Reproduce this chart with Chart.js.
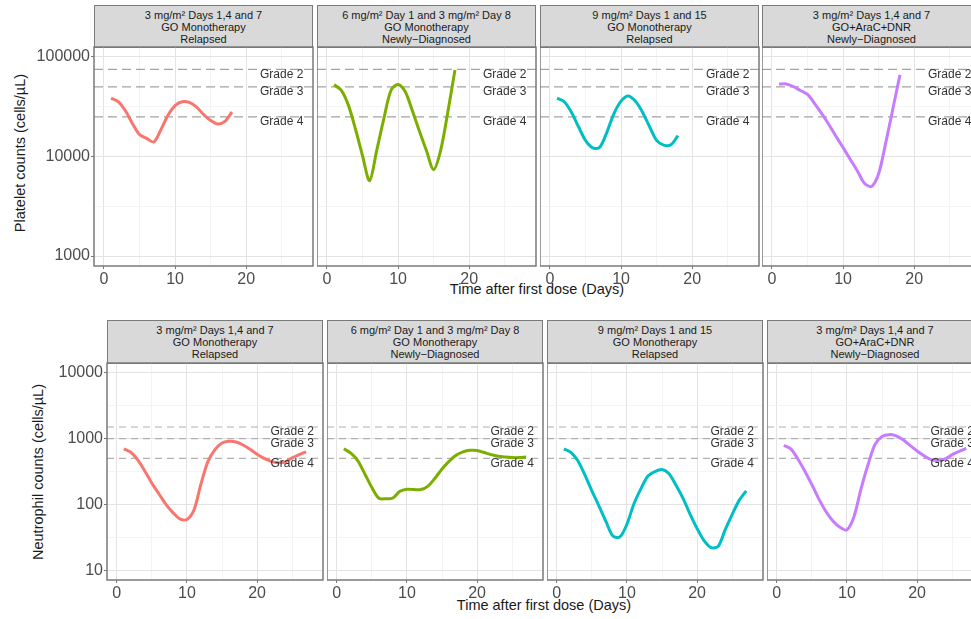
<!DOCTYPE html>
<html>
<head>
<meta charset="utf-8">
<script src="https://cdn.jsdelivr.net/npm/chart.js@4.4.1/dist/chart.umd.min.js"></script>
<style>
body { margin: 0; width: 971px; height: 619px; overflow: hidden; background: #fff; position: relative; font-family: "Liberation Sans", Arial, sans-serif; }
canvas { position: absolute; }
.strip { position: absolute; box-sizing: border-box; background: #d9d9d9; border: 1.5px solid #7a7a7a; color: #1a1a1a; font-size: 11px; line-height: 12px; text-align: center; display: flex; flex-direction: column; justify-content: center; white-space: nowrap; overflow: hidden; }
.title { position: absolute; color: #1a1a1a; font-size: 14.5px; white-space: nowrap; transform: translate(-50%, -50%); }
.ytitle { transform: translate(-50%, -50%) rotate(-90deg); }
</style>
</head>
<body>
<div class="title ytitle" style="left:20px;top:153px">Platelet counts (cells/µL)</div>
<div class="title" style="left:537px;top:289px">Time after first dose (Days)</div>
<div class="title ytitle" style="left:38px;top:472px">Neutrophil counts (cells/µL)</div>
<div class="title" style="left:544px;top:605px">Time after first dose (Days)</div>
<script>
// panel headers
const panelLabels = [
    ['3 mg/m² Days 1,4 and 7', 'GO Monotherapy', 'Relapsed'],
    ['6 mg/m² Day 1 and 3 mg/m² Day 8', 'GO Monotherapy', 'Newly−Diagnosed'],
    ['9 mg/m² Days 1 and 15', 'GO Monotherapy', 'Relapsed'],
    ['3 mg/m² Days 1,4 and 7', 'GO+AraC+DNR', 'Newly−Diagnosed']
];
const seriesColors = ['#F8766D', '#7CAE00', '#00BFC4', '#C77CFF'];

const plateletDays = [1, 2, 3, 4, 5, 6, 7, 8, 9, 10, 11, 12, 13, 14, 15, 16, 17, 18];
const plateletRed    = [38600, 35500, 29000, 21500, 16600, 15200, 14000, 18500, 26000, 32500, 35500, 35000, 31500, 26500, 23000, 21200, 22500, 28000];
const plateletGreen  = [52500, 46500, 33000, 19000, 10200, 5700, 11500, 24000, 46000, 53000, 45000, 29000, 18000, 11400, 7400, 11600, 28000, 74000];
const plateletCyan   = [38500, 35500, 28000, 20000, 14500, 12200, 12400, 17500, 27000, 36000, 40500, 36000, 28000, 20000, 14500, 13000, 13100, 16200];
const plateletPurple = [53500, 53500, 50500, 46000, 42000, 34000, 27000, 21000, 16000, 12300, 9400, 7200, 5400, 5000, 6700, 13700, 30000, 66000];

const neutrophilDays = [1, 2, 3, 4, 5, 6, 7, 8, 9, 10, 11, 12, 13, 14, 15, 16, 17, 18, 19, 20, 21, 22, 23, 24, 25, 26, 27];
const neutrophilRed    = [700, 620, 470, 320, 210, 145, 100, 75, 60, 59, 82, 205, 450, 680, 860, 910, 890, 800, 690, 580, 500, 450, 430, 440, 510, 570, 630];
const neutrophilGreen  = [700, 600, 460, 290, 180, 124, 122, 125, 158, 170, 168, 168, 190, 250, 345, 450, 560, 630, 665, 660, 615, 570, 540, 525, 515, 515, 527];
const neutrophilCyan   = [700, 620, 460, 280, 160, 95, 55, 33, 32, 50, 102, 174, 270, 316, 338, 292, 195, 123, 71, 43, 28, 22, 23, 41, 70, 115, 160];
const neutrophilPurple = [790, 700, 490, 320, 200, 120, 78, 56, 45, 41, 65, 171, 400, 815, 1080, 1150, 1100, 960, 790, 650, 550, 480, 465, 490, 570, 640, 710];

const gradeNames = ['Grade 2', 'Grade 3', 'Grade 4'];
const plateletGrades = [75000, 50000, 25000];
const neutrophilGrades = [1500, 1000, 500];

const plateletTicks = [1000, 10000, 100000];
const neutrophilTicks = [10, 100, 1000, 10000];
const dayTicks = [0, 10, 20];

const rows = [
    {
        stripTop: 5, plotTop: 47, plotH: 219, plotW: 219, lefts: [94, 317, 540, 762],
        yMin: Math.pow(10, 2.9), yMax: Math.pow(10, 5.1), yTicks: plateletTicks,
        grades: plateletGrades, days: plateletDays,
        series: [plateletRed, plateletGreen, plateletCyan, plateletPurple],
        dash: [9, 5], dashColor: '#a3a3a3', dashWidth: 1.4
    },
    {
        stripTop: 320, plotTop: 363, plotH: 217, plotW: 216, lefts: [107, 327, 547, 767],
        yMin: Math.pow(10, 0.85), yMax: Math.pow(10, 4.15), yTicks: neutrophilTicks,
        grades: neutrophilGrades, days: neutrophilDays,
        series: [neutrophilRed, neutrophilGreen, neutrophilCyan, neutrophilPurple],
        dash: [7, 5], dashColor: '#b0b0b0', dashWidth: 1.1
    }
];

const gradePlugin = {
    id: 'grades',
    beforeDatasetsDraw(chart, args, opts) {
        const { ctx, chartArea, scales } = chart;
        ctx.save();
        ctx.beginPath();
        ctx.rect(chartArea.left, chartArea.top, chartArea.width, chartArea.height);
        ctx.clip();
        ctx.strokeStyle = opts.color;
        ctx.lineWidth = opts.width;
        ctx.setLineDash(opts.dash);
        opts.values.forEach(v => {
            const y = scales.y.getPixelForValue(v);
            ctx.beginPath();
            ctx.moveTo(chartArea.left, y);
            ctx.lineTo(chartArea.right, y);
            ctx.stroke();
        });
        ctx.restore();
    },
    afterDatasetsDraw(chart, args, opts) {
        const { ctx, scales } = chart;
        ctx.save();
        ctx.font = '12px "Liberation Sans", Arial, sans-serif';
        ctx.fillStyle = '#333';
        ctx.textAlign = 'center';
        ctx.textBaseline = 'middle';
        const x = scales.x.getPixelForValue(25);
        opts.values.forEach((v, i) => {
            ctx.fillText(gradeNames[i], x, scales.y.getPixelForValue(v) + 5);
        });
        ctx.restore();
    },
    afterDraw(chart) {
        const { ctx, chartArea } = chart;
        ctx.save();
        ctx.strokeStyle = '#7a7a7a';
        ctx.lineWidth = 1.5;
        ctx.strokeRect(chartArea.left, chartArea.top, chartArea.width, chartArea.height);
        ctx.restore();
    }
};

function isMajorDay(v) { return dayTicks.includes(v); }

function makePanel(row, i) {
    const left = row.lefts[i];
    const strip = document.createElement('div');
    strip.className = 'strip';
    strip.style.left = left + 'px';
    strip.style.top = row.stripTop + 'px';
    strip.style.width = row.plotW + 'px';
    strip.style.height = (row.plotTop - row.stripTop + 1) + 'px';
    strip.innerHTML = panelLabels[i].map(t => '<div>' + t + '</div>').join('');
    document.body.appendChild(strip);

    const showY = i === 0;
    const canvasLeft = showY ? 20 : left;
    const yAxisW = left - canvasLeft;
    const padTop = 12, padRight = 3, xAxisH = 24;

    const canvas = document.createElement('canvas');
    canvas.width = yAxisW + row.plotW + padRight;
    canvas.height = padTop + row.plotH + xAxisH;
    canvas.style.left = canvasLeft + 'px';
    canvas.style.top = (row.plotTop - padTop) + 'px';
    document.body.appendChild(canvas);

    const majorsY = row.yTicks;
    const minorsY = [];
    for (let k = 0; k < majorsY.length - 1; k++) minorsY.push(Math.sqrt(majorsY[k] * majorsY[k + 1]));
    const isMajorY = v => majorsY.some(m => Math.abs(m - v) < 1e-6 * m);

    new Chart(canvas, {
        type: 'line',
        data: {
            datasets: [{
                data: row.days.map((d, k) => ({ x: d, y: row.series[i][k] })),
                borderColor: seriesColors[i],
                borderWidth: 3,
                pointRadius: 0,
                tension: 0.3,
                fill: false
            }]
        },
        options: {
            responsive: false,
            animation: false,
            devicePixelRatio: 1,
            layout: { padding: { top: padTop, right: padRight, left: 0, bottom: 0 } },
            plugins: {
                legend: { display: false },
                tooltip: { enabled: false },
                grades: { values: row.grades, dash: row.dash, color: row.dashColor, width: row.dashWidth }
            },
            scales: {
                x: {
                    type: 'linear',
                    min: -1.4,
                    max: 29.4,
                    border: { display: false },
                    afterBuildTicks: axis => {
                        const ticks = [];
                        dayTicks.forEach(d => { ticks.push({ value: d }); ticks.push({ value: d + 5 }); });
                        axis.ticks = ticks;
                    },
                    afterFit: axis => { axis.height = xAxisH; },
                    grid: {
                        color: c => isMajorDay(c.tick.value) ? '#e3e3e3' : '#efefef',
                        lineWidth: c => isMajorDay(c.tick.value) ? 1 : 0.7,
                        tickColor: c => isMajorDay(c.tick.value) ? '#777' : 'rgba(0,0,0,0)',
                        tickLength: 3
                    },
                    ticks: {
                        autoSkip: false,
                        maxRotation: 0,
                        padding: 1,
                        color: '#4d4d4d',
                        font: { size: 16, family: '"Liberation Sans", Arial, sans-serif' },
                        callback: v => isMajorDay(v) ? String(v) : ''
                    }
                },
                y: {
                    type: 'logarithmic',
                    min: row.yMin,
                    max: row.yMax,
                    border: { display: false },
                    afterBuildTicks: axis => {
                        axis.ticks = majorsY.concat(minorsY).map(v => ({ value: v }));
                    },
                    afterFit: axis => { axis.width = yAxisW; },
                    grid: {
                        color: c => isMajorY(c.tick.value) ? '#e3e3e3' : '#efefef',
                        lineWidth: c => isMajorY(c.tick.value) ? 1 : 0.7,
                        tickColor: c => isMajorY(c.tick.value) ? '#777' : 'rgba(0,0,0,0)',
                        tickLength: 3,
                        drawTicks: showY
                    },
                    ticks: {
                        display: showY,
                        autoSkip: false,
                        padding: 1,
                        color: '#4d4d4d',
                        font: { size: 16, family: '"Liberation Sans", Arial, sans-serif' },
                        callback: v => isMajorY(v) ? String(v) : ''
                    }
                }
            }
        },
        plugins: [gradePlugin]
    });
}

rows.forEach(row => {
    for (let i = 0; i < 4; i++) makePanel(row, i);
});
</script>
</body>
</html>
